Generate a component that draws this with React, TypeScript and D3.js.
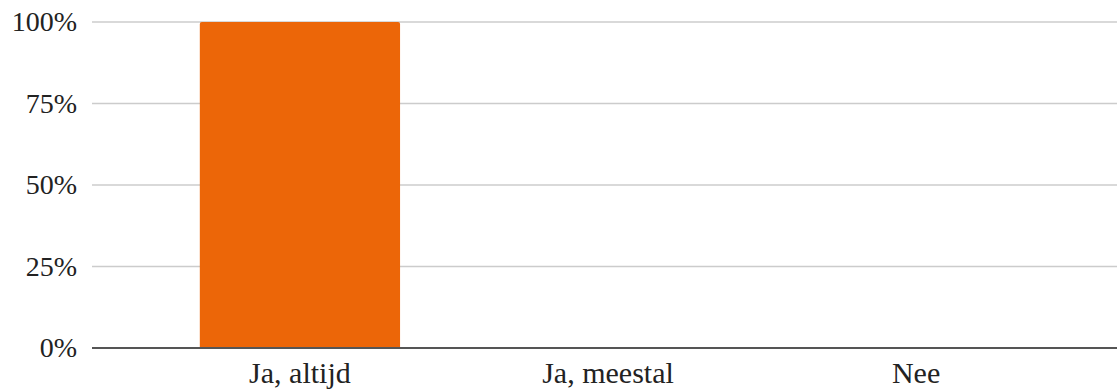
import React from "react";
import * as d3 from "d3";

const categories = ["Ja, altijd", "Ja, meestal", "Nee"];
const values = [100, 0, 0];
const yTicks = [0, 25, 50, 75, 100];

const W = 1117;
const H = 392;
const plotLeft = 92;
const plotRight = 1117;
const plotTop = 22;
const plotBottom = 348;

export default function App() {
  const x = d3
    .scaleBand<string>()
    .domain(categories)
    .range([100, 1116])
    .paddingInner(0.35)
    .paddingOuter(0.324);
  const y = d3.scaleLinear().domain([0, 100]).range([plotBottom, plotTop]);
  const font = "'Liberation Serif', serif";
  return (
    <svg
      width={W}
      height={H}
      style={{ position: "absolute", left: 0, top: 0, background: "#fff" }}
      fontFamily={font}
    >
      {yTicks.map((t) => (
        <g key={t}>
          {t > 0 && (
            <line
              x1={plotLeft}
              x2={plotRight}
              y1={y(t)}
              y2={y(t)}
              stroke="#cccccc"
              strokeWidth={1.5}
            />
          )}
          <text
            x={77}
            y={y(t)}
            dy="0.33em"
            textAnchor="end"
            fontSize={28}
            fill="#222"
          >
            {t}%
          </text>
        </g>
      ))}
      {categories.map((c, i) => {
        const v = values[i];
        if (v <= 0) return null;
        const x0 = x(c)!;
        const bw = x.bandwidth();
        const yTop = y(v);
        const r = 2;
        const path = `M${x0},${plotBottom} L${x0},${yTop + r} Q${x0},${yTop} ${x0 + r},${yTop} L${x0 + bw - r},${yTop} Q${x0 + bw},${yTop} ${x0 + bw},${yTop + r} L${x0 + bw},${plotBottom} Z`;
        return <path key={c} d={path} fill="#EC6608" />;
      })}
      <line
        x1={plotLeft}
        x2={plotRight}
        y1={plotBottom}
        y2={plotBottom}
        stroke="#555"
        strokeWidth={2}
      />
      {categories.map((c) => (
        <text
          key={c}
          x={x(c)! + x.bandwidth() / 2}
          y={383}
          textAnchor="middle"
          fontSize={30}
          fill="#222"
        >
          {c}
        </text>
      ))}
    </svg>
  );
}
